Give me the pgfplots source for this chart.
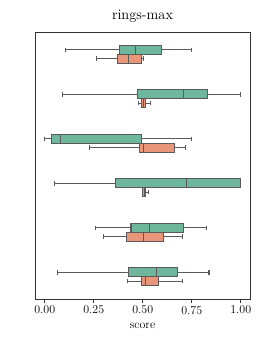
\documentclass[border=0pt]{standalone}
\usepackage{pgfplots}
\pgfplotsset{compat=1.18}
\usepgfplotslibrary{statistics}
\definecolor{cg}{HTML}{6FB79C}
\definecolor{co}{HTML}{E8967A}
\definecolor{ln}{HTML}{5A5A5A}
\begin{document}
\begin{tikzpicture}
\path[use as bounding box] (-35bp,-48bp) rectangle (231bp,299bp);
\begin{axis}[
  at={(0,0)}, anchor=south west,
  scale only axis, width=215bp, height=267bp,
  xmin=-0.05, xmax=1.047, ymin=-0.5, ymax=5.5, y dir=reverse,
  ytick=\empty,
  xtick={0,0.25,0.5,0.75,1},
  xticklabels={0.00,0.25,0.50,0.75,1.00},
  tick align=outside, xtick pos=bottom,
  major tick length=3.5bp,
  tick style={color=black!80, line width=0.8pt},
  axis line style={color=black!80, line width=0.8pt},
  ticklabel style={font=\fontsize{12}{14}\selectfont},
  xlabel={score}, xlabel style={font=\fontsize{12}{14}\selectfont, yshift=-2bp},
  title={rings-max}, title style={font=\fontsize{14.5}{16}\selectfont, yshift=0bp},
  boxplot/box extend=0.2, boxplot/whisker extend=0.1,
  every boxplot/.style={draw=ln, line width=1.1pt},
]
% group 0
\addplot[boxplot prepared={lower whisker=0.106, lower quartile=0.379, median=0.461, upper quartile=0.597, upper whisker=0.748, draw position=-0.1}, fill=cg, draw=ln] coordinates {};
\addplot[boxplot prepared={lower whisker=0.264, lower quartile=0.372, median=0.425, upper quartile=0.493, upper whisker=0.505, draw position=0.1}, fill=co, draw=ln] coordinates {};
% group 1
\addplot[boxplot prepared={lower whisker=0.090, lower quartile=0.473, median=0.706, upper quartile=0.830, upper whisker=1.0, draw position=0.9}, fill=cg, draw=ln] coordinates {};
\addplot[boxplot prepared={lower whisker=0.476, lower quartile=0.492, median=0.503, upper quartile=0.514, upper whisker=0.541, draw position=1.1}, fill=co, draw=ln] coordinates {};
% group 2
\addplot[boxplot prepared={lower whisker=0.0, lower quartile=0.032, median=0.082, upper quartile=0.495, upper whisker=0.748, draw position=1.9}, fill=cg, draw=ln] coordinates {};
\addplot[boxplot prepared={lower whisker=0.230, lower quartile=0.483, median=0.502, upper quartile=0.662, upper whisker=0.719, draw position=2.1}, fill=co, draw=ln] coordinates {};
% group 3
\addplot[boxplot prepared={lower whisker=0.048, lower quartile=0.362, median=0.723, upper quartile=1.0, upper whisker=1.0, draw position=2.9}, fill=cg, draw=ln] coordinates {};
\addplot[boxplot prepared={lower whisker=0.497, lower quartile=0.500, median=0.507, upper quartile=0.514, upper whisker=0.529, draw position=3.1}, fill=co, draw=ln] coordinates {};
% group 4
\addplot[boxplot prepared={lower whisker=0.257, lower quartile=0.440, median=0.536, upper quartile=0.706, upper whisker=0.823, draw position=3.9}, fill=cg, draw=ln] coordinates {};
\addplot[boxplot prepared={lower whisker=0.299, lower quartile=0.418, median=0.503, upper quartile=0.605, upper whisker=0.702, draw position=4.1}, fill=co, draw=ln] coordinates {};
% group 5
\addplot[boxplot prepared={lower whisker=0.066, lower quartile=0.427, median=0.570, upper quartile=0.677, upper whisker=0.838, draw position=4.9}, fill=cg, draw=ln] coordinates {};
\addplot[boxplot prepared={lower whisker=0.422, lower quartile=0.493, median=0.514, upper quartile=0.580, upper whisker=0.702, draw position=5.1}, fill=co, draw=ln] coordinates {};
\end{axis}
\end{tikzpicture}
\end{document}
